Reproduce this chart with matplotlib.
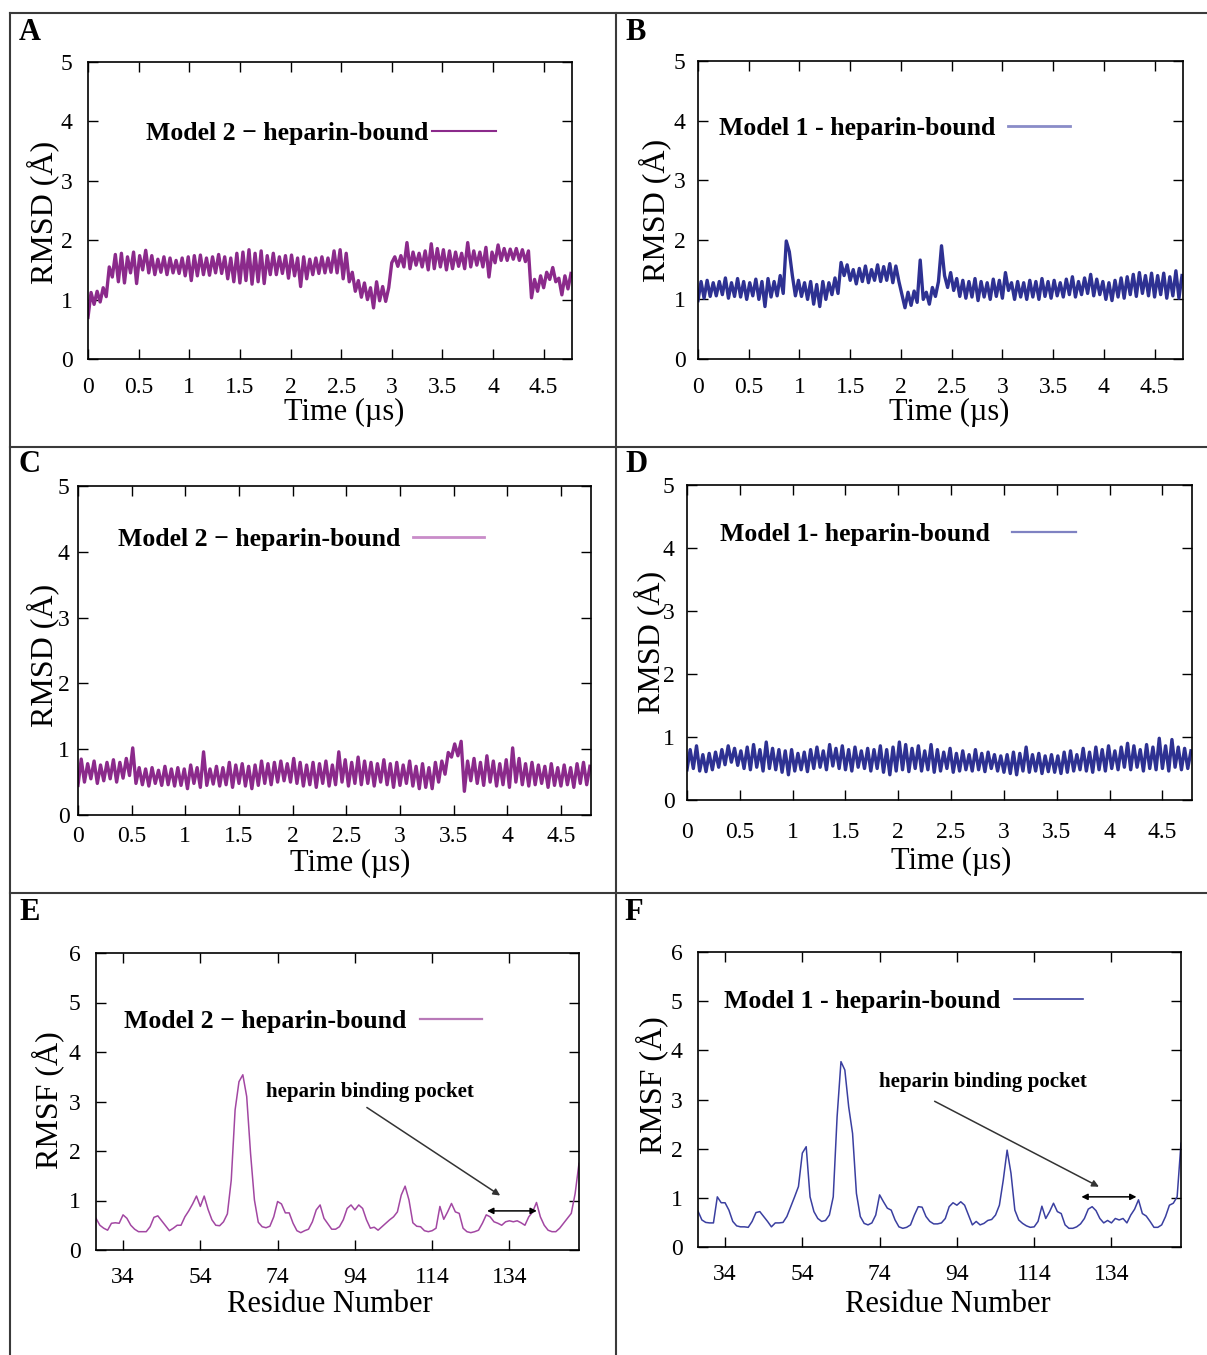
import matplotlib
matplotlib.use("Agg")
import matplotlib.pyplot as plt
from matplotlib.lines import Line2D
import numpy as np

plt.rcParams['font.family'] = ['Liberation Serif', 'DejaVu Serif']

# ---- data ----
# RMSD traces, one sample every 0.03 us (upper / lower edge of the noisy band)
t_step = 0.03

rmsd_A = [0.70, 1.12, 0.92, 1.14, 0.96, 1.20, 1.05, 1.55, 1.38, 1.76,
          1.30, 1.78, 1.28, 1.72, 1.45, 1.80, 1.27, 1.74, 1.50, 1.83,
          1.45, 1.74, 1.42, 1.68, 1.46, 1.72, 1.42, 1.70, 1.45, 1.66,
          1.44, 1.70, 1.40, 1.72, 1.32, 1.74, 1.40, 1.75, 1.42, 1.70,
          1.41, 1.72, 1.45, 1.76, 1.44, 1.72, 1.35, 1.70, 1.30, 1.78,
          1.28, 1.80, 1.32, 1.84, 1.26, 1.78, 1.30, 1.82, 1.27, 1.74,
          1.42, 1.78, 1.42, 1.72, 1.44, 1.74, 1.36, 1.75, 1.40, 1.70,
          1.22, 1.72, 1.35, 1.68, 1.42, 1.70, 1.44, 1.72, 1.45, 1.70,
          1.46, 1.82, 1.45, 1.84, 1.35, 1.78, 1.30, 1.46, 1.14, 1.32,
          1.04, 1.28, 1.00, 1.20, 0.86, 1.30, 0.98, 1.22, 0.97, 1.20,
          1.62, 1.72, 1.56, 1.74, 1.55, 1.96, 1.52, 1.80, 1.58, 1.78,
          1.55, 1.82, 1.50, 1.94, 1.52, 1.86, 1.55, 1.84, 1.50, 1.82,
          1.52, 1.80, 1.56, 1.78, 1.52, 1.96, 1.55, 1.82, 1.58, 1.80,
          1.55, 1.88, 1.38, 1.80, 1.62, 1.92, 1.66, 1.86, 1.66, 1.85,
          1.68, 1.86, 1.66, 1.84, 1.64, 1.82, 1.03, 1.34, 1.14, 1.40,
          1.20, 1.46, 1.34, 1.54, 1.30, 1.36, 1.08, 1.40, 1.18, 1.44]

rmsd_B = [0.98, 1.30, 1.02, 1.32, 1.05, 1.28, 1.06, 1.30, 1.08, 1.36,
          1.02, 1.28, 1.05, 1.35, 1.04, 1.30, 1.00, 1.28, 1.06, 1.34,
          1.00, 1.30, 0.88, 1.35, 1.04, 1.30, 1.06, 1.40, 1.10, 1.98,
          1.80, 1.40, 1.06, 1.32, 1.05, 1.28, 1.00, 1.30, 0.92, 1.25,
          0.88, 1.30, 1.00, 1.28, 1.08, 1.36, 1.10, 1.62, 1.40, 1.58,
          1.32, 1.50, 1.26, 1.52, 1.30, 1.56, 1.28, 1.50, 1.32, 1.58,
          1.30, 1.55, 1.32, 1.60, 1.28, 1.56, 1.30, 1.08, 0.86, 1.12,
          0.90, 1.14, 0.95, 1.66, 1.00, 1.12, 0.92, 1.20, 1.05, 1.30,
          1.90, 1.40, 1.20, 1.45, 1.15, 1.35, 1.05, 1.32, 1.02, 1.30,
          1.04, 1.35, 0.98, 1.30, 1.04, 1.28, 1.00, 1.34, 1.05, 1.32,
          1.02, 1.45, 1.15, 1.28, 1.00, 1.30, 1.04, 1.28, 1.00, 1.32,
          1.04, 1.30, 1.00, 1.35, 1.05, 1.30, 1.02, 1.32, 1.06, 1.28,
          1.04, 1.34, 1.08, 1.38, 1.04, 1.30, 1.08, 1.36, 1.10, 1.42,
          1.06, 1.34, 1.08, 1.30, 1.00, 1.28, 0.98, 1.32, 1.04, 1.36,
          1.02, 1.38, 1.08, 1.42, 1.05, 1.45, 1.10, 1.40, 1.06, 1.44,
          1.04, 1.40, 1.08, 1.44, 1.02, 1.38, 1.06, 1.48, 1.02, 1.40]

rmsd_C = [0.45, 0.85, 0.50, 0.78, 0.55, 0.82, 0.48, 0.76, 0.52, 0.80,
          0.55, 0.84, 0.50, 0.80, 0.56, 0.86, 0.60, 1.02, 0.48, 0.72,
          0.46, 0.70, 0.44, 0.72, 0.48, 0.68, 0.45, 0.74, 0.46, 0.70,
          0.44, 0.72, 0.45, 0.70, 0.40, 0.76, 0.48, 0.72, 0.42, 0.96,
          0.45, 0.70, 0.47, 0.74, 0.44, 0.72, 0.46, 0.80, 0.42, 0.76,
          0.48, 0.78, 0.44, 0.74, 0.40, 0.76, 0.45, 0.82, 0.48, 0.78,
          0.46, 0.80, 0.50, 0.82, 0.52, 0.78, 0.50, 0.86, 0.48, 0.80,
          0.44, 0.76, 0.46, 0.80, 0.42, 0.78, 0.48, 0.82, 0.44, 0.76,
          0.46, 0.96, 0.50, 0.84, 0.44, 0.80, 0.48, 0.88, 0.46, 0.82,
          0.48, 0.80, 0.44, 0.78, 0.50, 0.84, 0.46, 0.78, 0.42, 0.80,
          0.45, 0.76, 0.48, 0.82, 0.44, 0.74, 0.40, 0.78, 0.42, 0.72,
          0.40, 0.80, 0.50, 0.82, 0.62, 0.95, 0.88, 1.08, 0.90, 1.12,
          0.36, 0.82, 0.52, 0.86, 0.48, 0.80, 0.45, 0.90, 0.50, 0.82,
          0.44, 0.78, 0.46, 0.84, 0.42, 1.02, 0.50, 0.86, 0.46, 0.78,
          0.44, 0.80, 0.46, 0.76, 0.48, 0.74, 0.42, 0.78, 0.45, 0.72,
          0.44, 0.76, 0.46, 0.72, 0.42, 0.78, 0.48, 0.80, 0.46, 0.74]

rmsd_D = [0.48, 0.80, 0.50, 0.86, 0.46, 0.72, 0.45, 0.74, 0.48, 0.76,
          0.52, 0.80, 0.56, 0.86, 0.60, 0.82, 0.55, 0.78, 0.50, 0.84,
          0.48, 0.88, 0.52, 0.80, 0.46, 0.92, 0.50, 0.82, 0.48, 0.80,
          0.44, 0.78, 0.40, 0.80, 0.46, 0.74, 0.48, 0.76, 0.45, 0.80,
          0.50, 0.84, 0.52, 0.78, 0.48, 0.88, 0.54, 0.82, 0.50, 0.86,
          0.48, 0.80, 0.46, 0.84, 0.52, 0.78, 0.50, 0.82, 0.46, 0.80,
          0.50, 0.86, 0.44, 0.80, 0.40, 0.84, 0.46, 0.92, 0.48, 0.88,
          0.45, 0.82, 0.50, 0.86, 0.46, 0.78, 0.48, 0.88, 0.44, 0.80,
          0.46, 0.76, 0.50, 0.82, 0.44, 0.74, 0.46, 0.78, 0.48, 0.72,
          0.46, 0.80, 0.48, 0.74, 0.45, 0.76, 0.50, 0.72, 0.46, 0.70,
          0.44, 0.72, 0.42, 0.76, 0.40, 0.74, 0.46, 0.84, 0.44, 0.72,
          0.46, 0.74, 0.42, 0.70, 0.45, 0.72, 0.44, 0.70, 0.42, 0.76,
          0.44, 0.78, 0.46, 0.72, 0.48, 0.82, 0.46, 0.76, 0.44, 0.84,
          0.48, 0.80, 0.46, 0.86, 0.50, 0.78, 0.48, 0.84, 0.52, 0.90,
          0.48, 0.86, 0.52, 0.80, 0.46, 0.88, 0.50, 0.84, 0.48, 0.98,
          0.50, 0.86, 0.46, 0.96, 0.52, 0.84, 0.48, 0.82, 0.50, 0.78]

# RMSF per residue, residues 27..152
first_res = 27
rmsf_E = [0.64, 0.50, 0.44, 0.40, 0.54, 0.55, 0.54, 0.71, 0.64, 0.50,
          0.42, 0.37, 0.37, 0.37, 0.47, 0.66, 0.69, 0.59, 0.49, 0.39,
          0.44, 0.50, 0.50, 0.67, 0.79, 0.93, 1.09, 0.88, 1.09, 0.82,
          0.61, 0.50, 0.49, 0.57, 0.73, 1.41, 2.83, 3.40, 3.54, 3.10,
          1.95, 1.01, 0.56, 0.47, 0.45, 0.48, 0.67, 0.98, 0.93, 0.75,
          0.75, 0.54, 0.39, 0.35, 0.39, 0.42, 0.57, 0.81, 0.91, 0.64,
          0.53, 0.42, 0.42, 0.47, 0.61, 0.84, 0.91, 0.81, 0.91, 0.84,
          0.61, 0.44, 0.46, 0.40, 0.47, 0.54, 0.61, 0.67, 0.77, 1.11,
          1.29, 1.01, 0.55, 0.48, 0.47, 0.39, 0.37, 0.39, 0.44, 0.88,
          0.62, 0.77, 0.94, 0.77, 0.74, 0.44, 0.37, 0.35, 0.37, 0.40,
          0.54, 0.71, 0.67, 0.57, 0.54, 0.50, 0.57, 0.59, 0.57, 0.59,
          0.55, 0.50, 0.67, 0.77, 0.96, 0.67, 0.50, 0.40, 0.37, 0.37,
          0.44, 0.54, 0.64, 0.74, 1.14, 1.75]

rmsf_F = [0.73, 0.55, 0.50, 0.49, 0.49, 1.02, 0.90, 0.90, 0.75, 0.52,
          0.43, 0.41, 0.41, 0.40, 0.52, 0.70, 0.72, 0.62, 0.52, 0.41,
          0.49, 0.49, 0.50, 0.62, 0.82, 1.02, 1.23, 1.91, 2.04, 1.02,
          0.72, 0.58, 0.52, 0.54, 0.65, 1.02, 2.65, 3.77, 3.60, 2.85,
          2.31, 1.09, 0.62, 0.48, 0.45, 0.49, 0.65, 1.06, 0.92, 0.79,
          0.75, 0.55, 0.41, 0.38, 0.40, 0.45, 0.65, 0.82, 0.81, 0.62,
          0.52, 0.47, 0.47, 0.49, 0.58, 0.82, 0.90, 0.85, 0.92, 0.85,
          0.65, 0.45, 0.52, 0.45, 0.48, 0.54, 0.56, 0.65, 0.85, 1.36,
          1.97, 1.50, 0.75, 0.55, 0.48, 0.43, 0.40, 0.41, 0.52, 0.83,
          0.58, 0.72, 0.89, 0.72, 0.68, 0.45, 0.38, 0.38, 0.41, 0.47,
          0.58, 0.77, 0.82, 0.74, 0.58, 0.49, 0.54, 0.49, 0.58, 0.55,
          0.58, 0.49, 0.65, 0.77, 0.96, 0.68, 0.63, 0.52, 0.40, 0.40,
          0.45, 0.62, 0.85, 0.89, 1.02, 2.11]

time_ticks = [0, 0.5, 1, 1.5, 2, 2.5, 3, 3.5, 4, 4.5]
time_labels = ['0', '0.5', '1', '1.5', '2', '2.5', '3', '3.5', '4', '4.5']
res_ticks = [34, 54, 74, 94, 114, 134]

purple = '#8b2a8b'
blue = '#2e3192'

W, H = 1207, 1355
fig = plt.figure(figsize=(W / 100, H / 100), dpi=100)


def box(x0, y0, x1, y1):
    return [x0 / W, 1 - y1 / H, (x1 - x0) / W, (y1 - y0) / H]


def style(ax, xpad, ypad):
    ax.tick_params(direction='in', top=True, right=True, length=7, width=1,
                   labelsize=17)
    ax.tick_params(axis='x', pad=xpad)
    ax.tick_params(axis='y', pad=ypad)
    for s in ax.spines.values():
        s.set_linewidth(1.2)


def legend(ax, label, x, y, hl, gap, color, lw):
    h = [Line2D([0], [0], color=color, lw=lw)]
    ax.legend(h, [label], loc='center right', bbox_to_anchor=(x, y),
              frameon=False, markerfirst=False, borderpad=0, borderaxespad=0,
              handlelength=hl, handletextpad=gap,
              prop={'size': 18.5, 'weight': 'bold'})


def rmsd_panel(rect, vals, color, label, leg, xpad, ypad):
    ax = fig.add_axes(box(*rect))
    t = np.arange(len(vals)) * t_step
    ax.plot(t, vals, color=color, lw=2.4)
    ax.set_xlim(0, 4.78)
    ax.set_ylim(0, 5)
    ax.set_xticks(time_ticks)
    ax.set_xticklabels(time_labels)
    ax.set_yticks([0, 1, 2, 3, 4, 5])
    style(ax, xpad, ypad)
    legend(ax, label, *leg)
    return ax


def rmsf_panel(rect, vals, color, label, leg, note, xpad, ypad):
    ax = fig.add_axes(box(*rect))
    res = np.arange(first_res, first_res + len(vals))
    ax.plot(res, vals, color=color, lw=1.1)
    ax.set_xlim(27, 152)
    ax.set_ylim(0, 6)
    ax.set_xticks(res_ticks)
    ax.set_yticks([0, 1, 2, 3, 4, 5, 6])
    style(ax, xpad, ypad)
    legend(ax, label, *leg)
    (tx, ty), (ax0, ay0), (ax1, ay1), (b0, b1, by) = note
    ax.text(tx, ty, 'heparin binding pocket', fontsize=15, fontweight='bold',
            ha='left', va='center')
    ax.annotate('', xy=(ax1, ay1), xytext=(ax0, ay0),
                arrowprops=dict(arrowstyle='-|>', color='#333333', lw=1.1,
                                mutation_scale=10))
    ax.annotate('', xy=(b1, by), xytext=(b0, by),
                arrowprops=dict(arrowstyle='<|-|>', color='black', lw=1.1,
                                mutation_scale=9))
    return ax


rmsd_panel((88, 62, 572, 359), rmsd_A, purple, 'Model 2 \u2212 heparin-bound',
           (0.843, 0.760, 2.5, 0.15, purple, 1.5), 13, 11)
rmsd_panel((698, 61, 1183, 359), rmsd_B, blue, 'Model 1 - heparin-bound',
           (0.767, 0.772, 2.4, 0.5, '#8a8cc8', 2.0), 13, 9)
rmsd_panel((78, 486, 591, 815), rmsd_C, purple, 'Model 2 \u2212 heparin-bound',
           (0.791, 0.836, 2.75, 0.5, '#c98cc9', 2.0), 8, 6)
rmsd_panel((687, 485, 1192, 800), rmsd_D, blue, 'Model 1- heparin-bound',
           (0.770, 0.844, 2.5, 0.85, '#7f82c2', 1.6), 16, 9)

rmsf_panel((96, 953, 579, 1250), rmsf_E, '#a247a2', 'Model 2 \u2212 heparin-bound',
           (0.799, 0.771, 2.4, 0.55, '#b879b8', 1.6),
           ((71.0, 3.2), (96.5, 2.91), (132.2, 1.07), (127.5, 141.8, 0.79)), 12, 11)
rmsf_panel((698, 952, 1181, 1247), rmsf_F, '#3a3fa0', 'Model 1 - heparin-bound',
           (0.797, 0.831, 2.7, 0.5, '#3a3fa0', 1.2),
           ((73.8, 3.36), (87.6, 2.99), (131.4, 1.2), (125.5, 141.2, 1.02)), 12, 11)


# axis titles and panel letters
def ftext(x, y, s, **kw):
    fig.text(x / W, 1 - y / H, s, **kw)


labels = [((344, 412), (43, 212), 'Time (\u00b5s)', 'RMSD (\u00c5)'),
          ((949, 412), (655, 210), 'Time (\u00b5s)', 'RMSD (\u00c5)'),
          ((350, 863), (43, 655), 'Time (\u00b5s)', 'RMSD (\u00c5)'),
          ((951, 861), (650, 642), 'Time (\u00b5s)', 'RMSD (\u00c5)'),
          ((330, 1305), (48, 1100), 'Residue Number', 'RMSF (\u00c5)'),
          ((948, 1305), (652, 1085), 'Residue Number', 'RMSF (\u00c5)')]
for (xl, yl), (yx, yy), xs, ys in labels:
    ftext(xl, yl, xs, fontsize=22, ha='center', va='center')
    ftext(yx, yy, ys, fontsize=23, ha='center', va='center', rotation=90)

for (x, y), s in zip([(30, 32), (636, 32), (30, 465), (637, 465), (30, 913), (634, 913)],
                     'ABCDEF'):
    ftext(x, y, s, fontsize=22, fontweight='bold', ha='center', va='center')

# panel frame lines
frame = dict(color='#3a3a3a', lw=1.5)
for (x0, y0, x1, y1) in [(10, 13, 1207, 13), (10, 13, 10, 1355), (616, 13, 616, 1355),
                         (10, 447, 1207, 447), (10, 893, 1207, 893)]:
    fig.add_artist(Line2D([x0 / W, x1 / W], [1 - y0 / H, 1 - y1 / H], **frame))

fig.savefig('out.png', dpi=100)
